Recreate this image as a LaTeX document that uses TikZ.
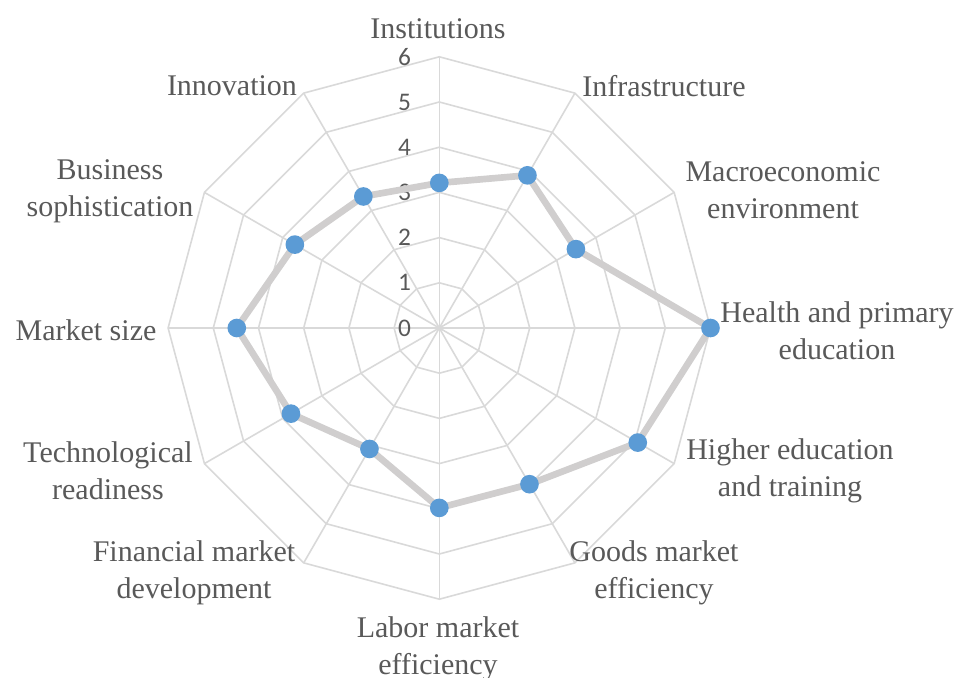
\documentclass[tikz,border=0pt]{standalone}
\usepackage{fontspec}
\setmainfont{Liberation Serif}
\newfontfamily\numfont{Carlito}
\definecolor{gridc}{HTML}{D9D9D9}
\definecolor{linec}{HTML}{D0CECE}
\definecolor{dotc}{HTML}{5B9BD5}
\definecolor{txtc}{HTML}{595959}
\tikzset{
  gridline/.style={draw=gridc, line width=1.2pt},
  dataline/.style={draw=linec, line width=5pt, line join=round},
  dot/.style={circle, fill=dotc, draw=none, minimum size=14pt, inner sep=0pt},
  lab/.style={text=txtc, font=\fontsize{22.5}{27.5}\selectfont, align=center, inner sep=0pt},
  tick/.style={text=txtc, font=\numfont\fontsize{19}{20}\selectfont, inner sep=0pt, anchor=east}
}
\begin{document}
\begin{tikzpicture}[x=0.75pt,y=0.75pt]
\useasboundingbox (-439.3,-349) rectangle (522.7,328);
\def\u{45.2}
% grid polygons
\foreach \k in {1,...,6}{
  \draw[gridline] (0:{\u*\k}) \foreach \a in {30,60,...,330}{ -- (\a:{\u*\k}) } -- cycle;
}
% spokes
\foreach \a in {0,30,...,330}{
  \draw[gridline] (0,0) -- (\a:{\u*6});
}
% tick labels
\foreach \k in {0,...,6}{
  \node[tick] (t\k) at (-28,{\u*\k}) {\k};
}
% data coordinates
\coordinate (d1) at (90:{3.21*\u});
\coordinate (d2) at (60:{3.90*\u});
\coordinate (d3) at (30:{3.49*\u});
\coordinate (d4) at (0:{6.00*\u});
\coordinate (d5) at (-30:{5.07*\u});
\coordinate (d6) at (-60:{3.99*\u});
\coordinate (d7) at (-90:{3.98*\u});
\coordinate (d8) at (-120:{3.09*\u});
\coordinate (d9) at (-150:{3.79*\u});
\coordinate (d10) at (180:{4.48*\u});
\coordinate (d11) at (150:{3.69*\u});
\coordinate (d12) at (120:{3.36*\u});
\draw[dataline] (d1) -- (d2) -- (d3) -- (d4) -- (d5) -- (d6) -- (d7) -- (d8) -- (d9) -- (d10) -- (d11) -- (d12) -- cycle;
\foreach \i in {1,...,12}{
  \node[dot] (m\i) at (d\i) {};
}
% axis labels
\node[lab] (l1) at (-1.3,299) {Institutions};
\node[lab] (l2) at (224.7,242) {Infrastructure};
\node[lab] (l3) at (343.7,138) {Macroeconomic\\environment};
\node[lab] (l4) at (397.7,-3) {Health and primary\\education};
\node[lab] (l5) at (350.7,-143) {Higher education\\and training};
\node[lab] (l6) at (214.7,-245) {Goods market\\efficiency};
\node[lab] (l7) at (-1.3,-321) {Labor market\\efficiency};
\node[lab] (l8) at (-245.3,-245) {Financial market\\development};
\node[lab] (l9) at (-331.3,-143) {Technological\\readiness};
\node[lab] (l10) at (-353.3,-2) {Market size};
\node[lab] (l11) at (-329.3,137) {Business\\sophistication};
\node[lab] (l12) at (-207.3,242) {Innovation};
\end{tikzpicture}
\end{document}
